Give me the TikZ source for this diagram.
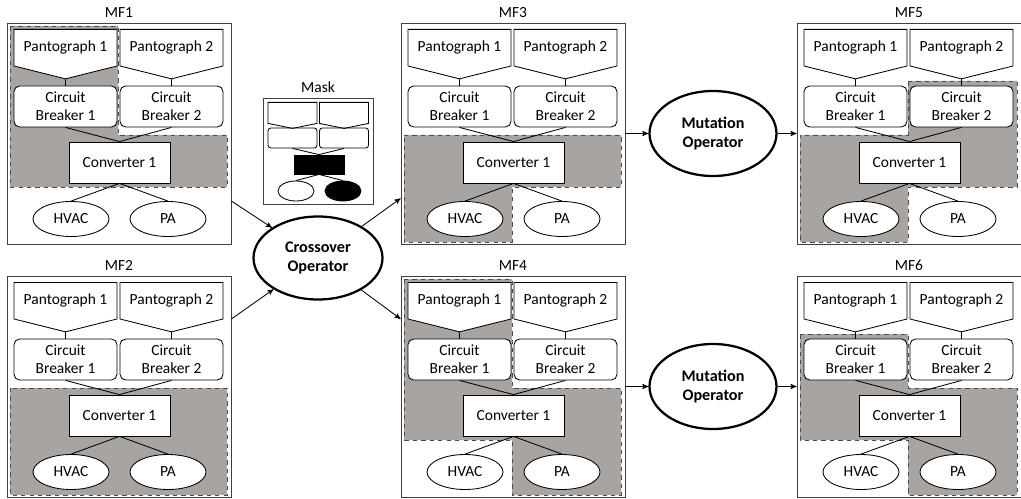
\documentclass[tikz,border=0pt]{standalone}
\usepackage{fontspec}
\setmainfont{Carlito}
\usepackage{xcolor}
\usepackage{tikz}
\usetikzlibrary{shapes,arrows,positioning}

\definecolor{selgray}{RGB}{167,164,161}
\newcommand{\pxl}{0.025cm}

% one function module: #1 name, #2 label, #3 x, #4 y, #5 selected part
\newcommand{\mfmodule}[5]{
\begin{scope}[shift={(#3,#4)}]
\node[mfbox, label={[label distance=3.5pt]above:#2}] (#1) at (112,110.5) {};
\draw[sel] #5;
\node[pant, anchor=north] (#1p1) at (58.5,6) {Pantograph 1};
\node[pant, anchor=north] (#1p2) at (164.5,6) {Pantograph 2};
\node[brk] (#1cb1) at (58.5,83.5) {Circuit\\Breaker 1};
\node[brk] (#1cb2) at (164.5,83.5) {Circuit\\Breaker 2};
\node[conv] (#1cv) at (112.5,139.5) {Converter 1};
\node[load] (#1hv) at (64,196) {HVAC};
\node[load] (#1pa) at (161,196) {PA};
\path
(#1p1.south) edge (#1cb1.north)
(#1p2.south) edge (#1cb2.north)
(#1cb1.south) edge (#1cv.north)
(#1cb2.south) edge (#1cv.north)
(#1cv.south) edge (#1hv.north)
(#1cv.south) edge (#1pa.north);
\end{scope}}

\begin{document}
\begin{tikzpicture}[x=\pxl, y=-\pxl, font=\fontsize{11}{12.8}\selectfont, >=stealth', semithick, inner sep=0pt]
\tikzstyle{mfbox}=[draw=black!75, minimum width=224*\pxl, minimum height=221*\pxl]
\tikzstyle{sel}=[fill=selgray, draw=black!70, dashed]
\tikzstyle{pant}=[draw, fill=white, signal, signal to=south, signal pointer angle=152, minimum width=103*\pxl, minimum height=47*\pxl]
\tikzstyle{brk}=[draw, fill=white, rounded corners=4pt, align=center, minimum width=103*\pxl, minimum height=41*\pxl]
\tikzstyle{conv}=[draw, fill=white, minimum width=101*\pxl, minimum height=41*\pxl]
\tikzstyle{load}=[draw, fill=white, ellipse, minimum width=76*\pxl, minimum height=35*\pxl]
\tikzstyle{oper}=[draw, ellipse, line width=1.6pt, align=center, font=\fontsize{11.5}{13.5}\selectfont\bfseries]
\tikzstyle{mpant}=[draw, signal, signal to=south, signal pointer angle=157, minimum width=49*\pxl, minimum height=21*\pxl]
\tikzstyle{mbrk}=[draw, rounded corners=2pt, minimum width=49*\pxl, minimum height=20*\pxl]
\tikzstyle{mload}=[draw, ellipse, minimum width=36*\pxl, minimum height=20*\pxl]
\useasboundingbox (0,0) rectangle (1021,499);

\mfmodule{mf1}{MF1}{7}{23}{(3,3) -- (111,3) -- (111,112) -- (220,112) -- (220,164) -- (3,164) -- cycle}
\mfmodule{mf2}{MF2}{7}{276}{(3,112) rectangle (220,219)}
\mfmodule{mf3}{MF3}{401}{23}{(3,112) -- (220,112) -- (220,164) -- (111,164) -- (111,219) -- (3,219) -- cycle}
\mfmodule{mf4}{MF4}{401}{276}{(3,3) -- (111,3) -- (111,112) -- (220,112) -- (220,219) -- (111,219) -- (111,164) -- (3,164) -- cycle}
\mfmodule{mf5}{MF5}{797}{23}{(111,58) -- (220,58) -- (220,164) -- (111,164) -- (111,219) -- (3,219) -- (3,112) -- (111,112) -- cycle}
\mfmodule{mf6}{MF6}{797}{276}{(3,58) -- (111,58) -- (111,112) -- (220,112) -- (220,219) -- (111,219) -- (111,164) -- (3,164) -- cycle}

% mask
\node[mfbox, minimum width=110*\pxl, minimum height=106*\pxl, label={[label distance=3.5pt]above:Mask}] (mask) at (318,151) {};
\node[mpant, anchor=north] (mkp1) at (292.5,102) {};
\node[mpant, anchor=north] (mkp2) at (344,102) {};
\node[mbrk] (mkcb1) at (292.5,138) {};
\node[mbrk] (mkcb2) at (344,138) {};
\node[draw, fill=black, minimum width=50*\pxl, minimum height=19*\pxl] (mkcv) at (319,164.5) {};
\node[mload] (mkhv) at (296,191) {};
\node[mload, fill=black] (mkpa) at (343,191) {};
\path
(mkp1.south) edge (mkcb1.north)
(mkp2.south) edge (mkcb2.north)
(mkcb1.south) edge (mkcv.north)
(mkcb2.south) edge (mkcv.north)
(mkcv.south) edge (mkhv.north)
(mkcv.south) edge (mkpa.north);

% operators
\node[oper, minimum width=129*\pxl, minimum height=83*\pxl] (cross) at (318,258) {Crossover\\Operator};
\node[oper, minimum width=127*\pxl, minimum height=85*\pxl] (mut1) at (713,133.5) {Mutation\\Operator};
\node[oper, minimum width=127*\pxl, minimum height=85*\pxl] (mut2) at (713,386.5) {Mutation\\Operator};

\draw[->] (mf1.-31) -- (cross);
\draw[->] (mf2.31) -- (cross);
\draw[->] (cross) -- (mf3.210);
\draw[->] (cross) -- (mf4.149);
\draw[->] (mf3) -- (mut1);
\draw[->] (mut1) -- (mf5);
\draw[->] (mf4) -- (mut2);
\draw[->] (mut2) -- (mf6);
\end{tikzpicture}
\end{document}
